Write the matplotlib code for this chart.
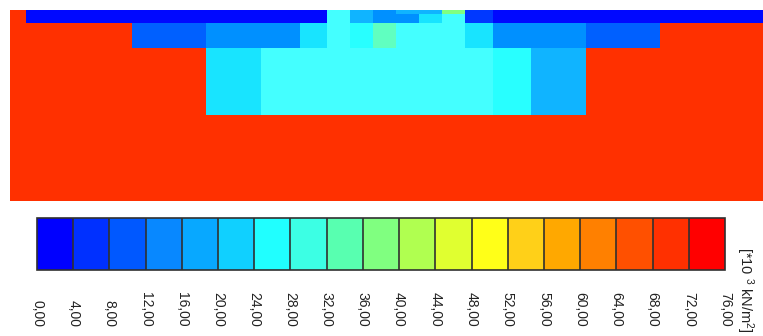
import numpy as np
import matplotlib
matplotlib.use("Agg")
import matplotlib.pyplot as plt
from matplotlib.colors import ListedColormap, BoundaryNorm
from matplotlib.cm import ScalarMappable

plt.rcParams['font.family'] = ['Liberation Sans', 'DejaVu Sans']
plt.rcParams['mathtext.fontset'] = 'custom'
plt.rcParams['mathtext.rm'] = 'Liberation Sans'
plt.rcParams['mathtext.it'] = 'Liberation Sans'
plt.rcParams['mathtext.bf'] = 'Liberation Sans'

# Section geometry (horizontal position and depth of the element boundaries)
x_edges = [0.0, 1.6, 12.2, 19.6, 25.1, 29.0, 31.7, 34.0, 36.3, 38.6,
           40.9, 43.2, 45.5, 48.3, 52.1, 57.6, 65.0, 75.3]
depth_edges = [0.0, 0.4, 1.3, 3.8, 10.5, 19.1]

# Stress per element row [*10^3 kN/m2], top layer first
stress_row_1 = [70, 2, 2, 2, 2, 2, 30, 18, 14, 18, 18, 38, 6, 2, 2, 2, 2]
stress_row_2 = [70, 2, 2, 2, 2, 2, 30, 18, 14, 14, 22, 30, 6, 2, 2, 2, 2]
stress_row_3 = [70, 70, 10, 14, 14, 22, 30, 26, 34, 30, 30, 30, 22, 14, 14, 10, 70]
stress_row_4 = [70, 70, 70, 22, 30, 30, 30, 30, 30, 30, 30, 30, 30, 26, 18, 70, 70]
stress_row_5 = [70] * 17

# Stress classes: legend swatches and the shading used in the section
levels = list(range(0, 77, 4))
class_colors = ['#0000ff', '#0030ff', '#0058ff', '#0888ff', '#08a8ff',
                '#10d0ff', '#20ffff', '#3cffe4', '#58ffb0', '#80ff80',
                '#b0ff50', '#e0ff30', '#ffff18', '#ffd018', '#ffa800',
                '#ff8000', '#ff5000', '#ff3000', '#ff0000']
field_colors = ['#0008ff', '#0038ff', '#0060ff', '#0090ff', '#10b4ff',
                '#18e4ff', '#28ffff', '#44ffff', '#60ffc0', '#80ff80',
                '#b0ff50', '#e0ff30', '#ffff18', '#ffd018', '#ffa800',
                '#ff8000', '#ff5000', '#ff3000', '#ff0000']
unit_label = r'[*10 $^3$ kN/m$^2$]'

legend_cmap = ListedColormap(class_colors)
field_cmap = ListedColormap(field_colors)
norm = BoundaryNorm(levels, len(class_colors))

W, H = 763, 336
fig = plt.figure(figsize=(W / 100, H / 100), dpi=100)

# Stress field
ax = fig.add_axes([10 / W, (H - 201) / H, 753 / W, 191 / H])
values = np.array([stress_row_1, stress_row_2, stress_row_3,
                   stress_row_4, stress_row_5], dtype=float)
ax.pcolormesh(x_edges, depth_edges, values, cmap=field_cmap, norm=norm,
              shading='flat', antialiased=False)
ax.set_xlim(x_edges[0], x_edges[-1])
ax.set_ylim(depth_edges[-1], depth_edges[0])
ax.axis('off')

# Class legend
cax = fig.add_axes([37 / W, (H - 270) / H, 688 / W, 52 / H])
cb = fig.colorbar(ScalarMappable(norm=norm, cmap=legend_cmap), cax=cax,
                  orientation='horizontal', drawedges=True, ticks=levels)
cb.outline.set_edgecolor('#303030')
cb.outline.set_linewidth(1.2)
cb.dividers.set_color('#303030')
cb.dividers.set_linewidth(1.2)
cax.set_xticklabels([f"{v:.2f}".replace('.', ',') for v in levels],
                    rotation=-90, rotation_mode='anchor', ha='right',
                    va='center', fontsize=10, color='#222222')
cax.tick_params(axis='x', length=0, pad=41)

fig.text(745 / W, 1 - 247 / H, unit_label, rotation=-90, ha='center',
         va='top', fontsize=10.5, color='#222222')

fig.savefig('out.png', dpi=100)
